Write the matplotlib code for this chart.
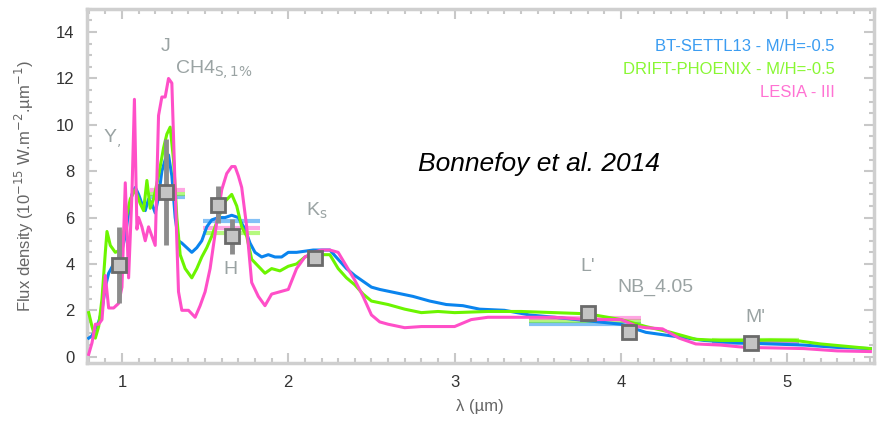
import numpy as np
import matplotlib
matplotlib.use("Agg")
import matplotlib.pyplot as plt
from matplotlib.ticker import MultipleLocator

plt.rcParams['font.family'] = ['Liberation Sans', 'DejaVu Sans']

# =========================
# DATA
# =========================
# BT-SETTL13 model spectrum
bt_wl = [0.80, 0.82, 0.84, 0.86, 0.88, 0.90, 0.92, 0.95, 0.98, 1.00, 1.02, 1.04, 1.06,
         1.08, 1.10, 1.12, 1.14, 1.16, 1.18, 1.20, 1.22, 1.24, 1.26, 1.28, 1.30, 1.32,
         1.34, 1.36, 1.39, 1.42, 1.45, 1.48, 1.51, 1.54, 1.58, 1.62, 1.66, 1.70, 1.74,
         1.77, 1.80, 1.84, 1.88, 1.92, 1.96, 2.00, 2.05, 2.10, 2.15, 2.20, 2.25, 2.30,
         2.35, 2.40, 2.45, 2.50, 2.55, 2.65, 2.75, 2.85, 2.95, 3.05, 3.15, 3.30, 3.45,
         3.60, 3.80, 4.00, 4.15, 4.30, 4.50, 4.70, 4.90, 5.10, 5.30, 5.50]
bt_flux = [0.8, 0.9, 1.2, 1.5, 2.0, 3.0, 3.6, 4.0, 4.2, 4.6, 5.2, 6.2, 7.0,
           7.3, 7.0, 6.6, 6.3, 6.8, 6.6, 6.2, 6.9, 8.0, 8.5, 8.7, 7.8, 6.0,
           5.0, 4.9, 4.7, 4.5, 4.7, 5.0, 5.6, 5.9, 6.0, 6.0, 6.1, 6.0, 5.5,
           4.9, 4.5, 4.3, 4.4, 4.3, 4.3, 4.5, 4.5, 4.55, 4.6, 4.6, 4.6, 4.2,
           3.8, 3.5, 3.25, 3.0, 2.9, 2.75, 2.6, 2.4, 2.25, 2.2, 2.05, 2.0, 1.8,
           1.7, 1.55, 1.4, 1.05, 0.9, 0.7, 0.6, 0.55, 0.5, 0.4, 0.35]

# DRIFT-PHOENIX model spectrum
dp_wl = [0.80, 0.82, 0.84, 0.86, 0.88, 0.90, 0.91, 0.93, 0.96, 0.99, 1.02, 1.05, 1.08,
         1.11, 1.13, 1.15, 1.17, 1.19, 1.22, 1.25, 1.27, 1.29, 1.31, 1.33, 1.35, 1.38,
         1.42, 1.45, 1.48, 1.51, 1.54, 1.58, 1.62, 1.66, 1.69, 1.72, 1.75, 1.78, 1.82,
         1.86, 1.90, 1.95, 2.00, 2.05, 2.10, 2.15, 2.20, 2.25, 2.30, 2.35, 2.40, 2.45,
         2.50, 2.60, 2.70, 2.80, 2.90, 3.00, 3.20, 3.40, 3.60, 3.80, 4.00, 4.15, 4.30,
         4.45, 4.60, 4.75, 4.90, 5.05, 5.20, 5.35, 5.50]
dp_flux = [1.9, 1.3, 0.8, 1.3, 2.5, 4.5, 5.4, 4.8, 4.5, 4.6, 5.8, 6.8, 7.2,
           6.6, 6.3, 7.6, 6.4, 6.8, 7.8, 9.0, 9.6, 9.9, 8.5, 6.0, 4.4, 3.8,
           3.4, 3.8, 4.3, 4.7, 5.2, 6.0, 6.7, 7.0, 6.5, 5.6, 5.2, 4.2, 3.9,
           3.6, 3.8, 3.7, 3.9, 4.0, 4.3, 4.4, 4.4, 4.4, 3.8, 3.4, 3.1, 2.7,
           2.4, 2.25, 2.05, 1.9, 1.95, 1.9, 1.95, 1.95, 1.9, 1.85, 1.6, 1.3, 1.05,
           0.75, 0.7, 0.7, 0.72, 0.7, 0.55, 0.45, 0.35]

# LESIA III model spectrum
le_wl = [0.80, 0.82, 0.84, 0.86, 0.88, 0.90, 0.91, 0.92, 0.95, 0.98, 1.00, 1.02, 1.04,
         1.06, 1.075, 1.09, 1.10, 1.12, 1.14, 1.16, 1.18, 1.20, 1.22, 1.24, 1.26, 1.28,
         1.30, 1.32, 1.34, 1.36, 1.40, 1.44, 1.47, 1.50, 1.53, 1.57, 1.60, 1.63, 1.66,
         1.68, 1.70, 1.72, 1.75, 1.78, 1.82, 1.86, 1.90, 1.95, 2.00, 2.05, 2.10, 2.15,
         2.20, 2.25, 2.30, 2.35, 2.40, 2.45, 2.50, 2.55, 2.60, 2.70, 2.80, 2.90, 3.00,
         3.10, 3.20, 3.40, 3.60, 3.80, 4.00, 4.10, 4.15, 4.25, 4.35, 4.45, 4.60, 4.75,
         4.90, 5.10, 5.30, 5.50]
le_flux = [0.1, 0.6, 1.4, 1.4, 1.6, 3.5, 2.8, 2.1, 2.1, 2.3, 3.0, 7.5, 3.4,
           7.0, 11.1, 5.5, 6.0, 5.6, 5.0, 5.6, 5.2, 4.8, 10.4, 11.2, 11.2, 12.0,
           11.8, 7.2, 2.8, 2.0, 2.0, 1.7, 2.2, 2.8, 3.8, 5.8, 7.2, 7.9, 8.2,
           8.2, 7.8, 7.3, 5.6, 3.2, 2.6, 2.2, 2.7, 2.8, 2.9, 3.8, 4.3, 4.5,
           4.6, 4.6, 4.5, 3.9, 3.3, 2.6, 1.8, 1.5, 1.4, 1.25, 1.3, 1.3, 1.3,
           1.6, 1.7, 1.7, 1.7, 1.6, 1.6, 1.3, 1.25, 1.2, 0.8, 0.55, 0.5, 0.4,
           0.38, 0.35, 0.25, 0.22]

# synthetic photometry of the models in the bands (J, H, L', M')
band_lo = [1.17, 1.49, 3.45, 4.55]
band_hi = [1.38, 1.83, 4.12, 5.07]
bt_band = [6.9, 5.85, 1.40, 0.60]
dp_band = [7.0, 5.35, 1.55, 0.73]
le_band = [7.2, 5.55, 1.65, 0.62]

# observed photometry
phot_wl = [0.98, 1.265, 1.58, 1.66, 2.16, 3.80, 4.05, 4.78]
phot_flux = [3.95, 7.1, 6.55, 5.2, 4.25, 1.9, 1.05, 0.6]
phot_err = [1.65, 2.3, 0.8, 0.75, 0.3, 0.2, 0.25, 0.2]

# band labels
band_names = ["Y$_{,}$", "J", "CH4$_{\\rm S,1\\%}$", "H", "K$_{\\rm s}$", "L'", "NB_4.05", "M'"]
band_x = [0.94, 1.26, 1.55, 1.65, 2.17, 3.80, 4.21, 4.81]
band_y = [9.4, 13.4, 12.4, 3.75, 6.3, 3.9, 3.0, 1.7]

model_names = ["BT-SETTL13 - M/H=-0.5", "DRIFT-PHOENIX - M/H=-0.5", "LESIA - III"]
model_colors = ["#0a84ee", "#6cf500", "#ff4fc8"]

# =========================
# PLOT
# =========================
fig = plt.figure(figsize=(8.79, 4.24), dpi=100)
ax = fig.add_axes([0.099, 0.144, 0.895, 0.835])

for wl, fl, lo_hi, col in [(bt_wl, bt_flux, bt_band, model_colors[0]),
                           (dp_wl, dp_flux, dp_band, model_colors[1]),
                           (le_wl, le_flux, le_band, model_colors[2])]:
    ax.hlines(lo_hi, band_lo, band_hi, colors=col, lw=3, alpha=0.5, zorder=2)
    ax.plot(wl, fl, color=col, lw=2.2, zorder=3)

ax.errorbar(phot_wl, phot_flux, yerr=phot_err, fmt='s', ms=10, mfc='#c4c4c4',
            mec='#6a6a6a', mew=2, ecolor='#8c8c8c', elinewidth=3.5, capsize=0, zorder=5)

for name, x, y in zip(band_names, band_x, band_y):
    ax.text(x, y, name, color='#9aa3a3', fontsize=14, ha='center', va='center', zorder=6)

for i, (name, col) in enumerate(zip(model_names, model_colors)):
    ax.text(0.950, 0.895 - i * 0.066, name, color=col, fontsize=12, ha='right',
            va='center', transform=ax.transAxes, alpha=0.8)

ax.text(3.51, 8.3, "Bonnefoy et al. 2014", fontsize=19, style='italic', ha='center',
        va='center', color='black')

ax.set_xlim(0.79, 5.52)
ax.set_ylim(-0.27, 15.0)
ax.xaxis.set_major_locator(MultipleLocator(1))
ax.xaxis.set_minor_locator(MultipleLocator(0.1))
ax.yaxis.set_major_locator(MultipleLocator(2))
ax.yaxis.set_minor_locator(MultipleLocator(0.5))
ax.tick_params(which='both', direction='in', top=True, right=True, color='#c8c8c8',
               labelcolor='#333333', labelsize=12, pad=9)
ax.tick_params(which='major', length=7, width=1.5)
ax.tick_params(which='minor', length=3.5, width=1.5)
for sp in ax.spines.values():
    sp.set_color('#cfcfcf')
    sp.set_linewidth(2.5)

ax.set_xlabel("λ (µm)", fontsize=12, color='#666666', labelpad=6)
ax.set_ylabel("Flux density (10$^{-15}$ W.m$^{-2}$.µm$^{-1}$)", fontsize=12, color='#666666',
              labelpad=14)

fig.savefig("out.png", dpi=100)
